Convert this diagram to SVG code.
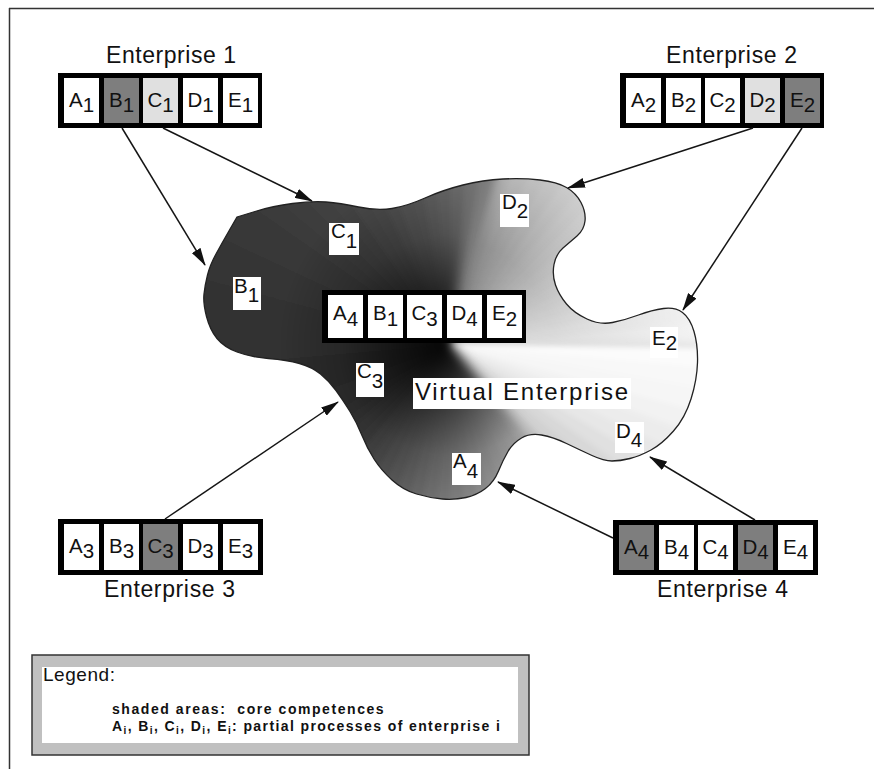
<svg xmlns="http://www.w3.org/2000/svg" xmlns:xlink="http://www.w3.org/1999/xlink" width="874" height="769" viewBox="0 0 874 769">
<style>
text{font-family:"Liberation Sans",Arial,sans-serif;fill:#111}
.lbl{font-size:23px}
.cell{font-size:20.5px}
.blk{fill:#000}
.wh{fill:#fff}
.dk{fill:#7e7e7e}
.lt{fill:#e0e0e0}
.con line{stroke:#151515;stroke-width:1.5;marker-end:url(#ah)}
.leg{font-size:14px;font-weight:bold;letter-spacing:1.4px;white-space:pre}
</style>
<defs>
<marker id="ah" viewBox="0 0 18 10" refX="17" refY="5" markerWidth="18" markerHeight="10" markerUnits="userSpaceOnUse" orient="auto">
<path d="M0,0 L18,5 L0,10 Z" fill="#111"/>
</marker>
<path id="blobPath" d="M237,217 L255,211.5 Q273,206 292.5,203.5 Q312,201 326,202 Q340,203 358.5,207 Q377,211 392,208.5 Q407,206 425,198 Q443,190 463,185 Q483,180 503,179 Q523,178 540,180 Q557,182 566.5,187.5 Q576,193 581,202.5 Q586,212 585,221 Q584,230 577,236 Q570,242 563,248 Q556,254 554,264.5 Q552,275 555.5,285 Q559,295 566.5,304 Q574,313 587,319 Q600,325 612.5,322.5 Q625,320 638.5,315 Q652,310 663.5,308.5 Q675,307 682.5,312.5 Q690,318 694,331.5 Q698,345 697.5,362.5 Q697,380 691,399 Q685,418 673.5,431 Q662,444 651,450 Q640,456 630,458.5 Q620,461 612,461 Q604,461 592,455.5 Q580,450 566.5,443.5 Q553,437 541.5,435 Q530,433 521.5,438 Q513,443 508,451.5 Q503,460 498.5,471 Q494,482 485.5,488.5 Q477,495 466,497.5 Q455,500 442.5,499 Q430,498 416.5,494 Q403,490 392,480 Q381,470 374,459 Q367,448 362,435.5 Q357,423 350,411.5 Q343,400 336,390.5 Q329,381 320.5,374 Q312,367 299.5,363.5 Q287,360 268.5,358.5 Q250,357 237,352 Q224,347 217,338.5 Q210,330 206.5,316.5 Q203,303 204,294 Q205,285 207.5,275 Q210,265 216,254 Q222,243 229.5,230 Z"/>
<clipPath id="blobClip"><use xlink:href="#blobPath"/></clipPath>
<circle id="wc" cx="450" cy="345" r="200" pathLength="360" fill="none" stroke-width="400" stroke-dasharray="5.6 354.4"/>
<radialGradient id="dark" gradientUnits="userSpaceOnUse" cx="450" cy="345" r="170">
<stop offset="0" stop-color="#000" stop-opacity="0.95"/>
<stop offset="0.3" stop-color="#000" stop-opacity="0.6"/>
<stop offset="0.65" stop-color="#000" stop-opacity="0.2"/>
<stop offset="1" stop-color="#000" stop-opacity="0"/>
</radialGradient>
<radialGradient id="light" gradientUnits="userSpaceOnUse" cx="450" cy="345" r="260">
<stop offset="0" stop-color="#fff" stop-opacity="0"/>
<stop offset="0.4" stop-color="#fff" stop-opacity="0.1"/>
<stop offset="1" stop-color="#fff" stop-opacity="0.75"/>
</radialGradient>
<filter id="soft" x="-20%" y="-20%" width="140%" height="140%"><feGaussianBlur stdDeviation="6"/></filter>
<filter id="smooth" x="0" y="0" width="874" height="769" filterUnits="userSpaceOnUse"><feGaussianBlur stdDeviation="2.5"/></filter>
<mask id="leftMask" maskUnits="userSpaceOnUse" x="0" y="0" width="874" height="769">
<path d="M450,345 L760,700 L-50,700 L-50,-50 L500,-50 Z" fill="#fff" filter="url(#soft)"/>
</mask>
<mask id="ruMask" maskUnits="userSpaceOnUse" x="0" y="0" width="874" height="769">
<path d="M450,345 L900,345 L900,-50 L560,-50 Z" fill="#fff" filter="url(#soft)"/>
</mask>
</defs>

<rect width="874" height="769" fill="#fff"/>
<path d="M9,8.5 H874 M9.5,8 V769" stroke="#333" stroke-width="1.5" fill="none"/>

<g id="virtual-enterprise">
<g clip-path="url(#blobClip)">
<g filter="url(#smooth)">
<use xlink:href="#wc" stroke="#fbfbfb" stroke-dashoffset="0"/>
<use xlink:href="#wc" stroke="#f8f8f8" stroke-dashoffset="-5"/>
<use xlink:href="#wc" stroke="#f6f6f6" stroke-dashoffset="-10"/>
<use xlink:href="#wc" stroke="#f2f2f2" stroke-dashoffset="-15"/>
<use xlink:href="#wc" stroke="#ececec" stroke-dashoffset="-20"/>
<use xlink:href="#wc" stroke="#e7e7e7" stroke-dashoffset="-25"/>
<use xlink:href="#wc" stroke="#e0e0e0" stroke-dashoffset="-30"/>
<use xlink:href="#wc" stroke="#d8d8d8" stroke-dashoffset="-35"/>
<use xlink:href="#wc" stroke="#d1d1d1" stroke-dashoffset="-40"/>
<use xlink:href="#wc" stroke="#c8c8c8" stroke-dashoffset="-45"/>
<use xlink:href="#wc" stroke="#bfbfbf" stroke-dashoffset="-50"/>
<use xlink:href="#wc" stroke="#b6b6b6" stroke-dashoffset="-55"/>
<use xlink:href="#wc" stroke="#aeaeae" stroke-dashoffset="-60"/>
<use xlink:href="#wc" stroke="#a5a5a5" stroke-dashoffset="-65"/>
<use xlink:href="#wc" stroke="#9c9c9c" stroke-dashoffset="-70"/>
<use xlink:href="#wc" stroke="#949494" stroke-dashoffset="-75"/>
<use xlink:href="#wc" stroke="#8c8c8c" stroke-dashoffset="-80"/>
<use xlink:href="#wc" stroke="#848484" stroke-dashoffset="-85"/>
<use xlink:href="#wc" stroke="#7c7c7c" stroke-dashoffset="-90"/>
<use xlink:href="#wc" stroke="#747474" stroke-dashoffset="-95"/>
<use xlink:href="#wc" stroke="#6d6d6d" stroke-dashoffset="-100"/>
<use xlink:href="#wc" stroke="#656565" stroke-dashoffset="-105"/>
<use xlink:href="#wc" stroke="#5d5d5d" stroke-dashoffset="-110"/>
<use xlink:href="#wc" stroke="#565656" stroke-dashoffset="-115"/>
<use xlink:href="#wc" stroke="#4f4f4f" stroke-dashoffset="-120"/>
<use xlink:href="#wc" stroke="#484848" stroke-dashoffset="-125"/>
<use xlink:href="#wc" stroke="#414141" stroke-dashoffset="-130"/>
<use xlink:href="#wc" stroke="#3c3c3c" stroke-dashoffset="-135"/>
<use xlink:href="#wc" stroke="#383838" stroke-dashoffset="-140"/>
<use xlink:href="#wc" stroke="#343434" stroke-dashoffset="-145"/>
<use xlink:href="#wc" stroke="#313131" stroke-dashoffset="-150"/>
<use xlink:href="#wc" stroke="#303030" stroke-dashoffset="-155"/>
<use xlink:href="#wc" stroke="#2f2f2f" stroke-dashoffset="-160"/>
<use xlink:href="#wc" stroke="#2e2e2e" stroke-dashoffset="-165"/>
<use xlink:href="#wc" stroke="#2f2f2f" stroke-dashoffset="-170"/>
<use xlink:href="#wc" stroke="#303030" stroke-dashoffset="-175"/>
<use xlink:href="#wc" stroke="#313131" stroke-dashoffset="-180"/>
<use xlink:href="#wc" stroke="#323232" stroke-dashoffset="-185"/>
<use xlink:href="#wc" stroke="#333333" stroke-dashoffset="-190"/>
<use xlink:href="#wc" stroke="#353535" stroke-dashoffset="-195"/>
<use xlink:href="#wc" stroke="#363636" stroke-dashoffset="-200"/>
<use xlink:href="#wc" stroke="#373737" stroke-dashoffset="-205"/>
<use xlink:href="#wc" stroke="#393939" stroke-dashoffset="-210"/>
<use xlink:href="#wc" stroke="#3b3b3b" stroke-dashoffset="-215"/>
<use xlink:href="#wc" stroke="#3d3d3d" stroke-dashoffset="-220"/>
<use xlink:href="#wc" stroke="#404040" stroke-dashoffset="-225"/>
<use xlink:href="#wc" stroke="#434343" stroke-dashoffset="-230"/>
<use xlink:href="#wc" stroke="#464646" stroke-dashoffset="-235"/>
<use xlink:href="#wc" stroke="#4a4a4a" stroke-dashoffset="-240"/>
<use xlink:href="#wc" stroke="#4f4f4f" stroke-dashoffset="-245"/>
<use xlink:href="#wc" stroke="#545454" stroke-dashoffset="-250"/>
<use xlink:href="#wc" stroke="#595959" stroke-dashoffset="-255"/>
<use xlink:href="#wc" stroke="#5f5f5f" stroke-dashoffset="-260"/>
<use xlink:href="#wc" stroke="#656565" stroke-dashoffset="-265"/>
<use xlink:href="#wc" stroke="#6c6c6c" stroke-dashoffset="-270"/>
<use xlink:href="#wc" stroke="#727272" stroke-dashoffset="-275"/>
<use xlink:href="#wc" stroke="#7a7a7a" stroke-dashoffset="-280"/>
<use xlink:href="#wc" stroke="#808080" stroke-dashoffset="-285"/>
<use xlink:href="#wc" stroke="#878787" stroke-dashoffset="-290"/>
<use xlink:href="#wc" stroke="#8e8e8e" stroke-dashoffset="-295"/>
<use xlink:href="#wc" stroke="#949494" stroke-dashoffset="-300"/>
<use xlink:href="#wc" stroke="#9b9b9b" stroke-dashoffset="-305"/>
<use xlink:href="#wc" stroke="#a2a2a2" stroke-dashoffset="-310"/>
<use xlink:href="#wc" stroke="#a8a8a8" stroke-dashoffset="-315"/>
<use xlink:href="#wc" stroke="#afafaf" stroke-dashoffset="-320"/>
<use xlink:href="#wc" stroke="#b6b6b6" stroke-dashoffset="-325"/>
<use xlink:href="#wc" stroke="#bcbcbc" stroke-dashoffset="-330"/>
<use xlink:href="#wc" stroke="#c2c2c2" stroke-dashoffset="-335"/>
<use xlink:href="#wc" stroke="#c8c8c8" stroke-dashoffset="-340"/>
<use xlink:href="#wc" stroke="#cecece" stroke-dashoffset="-345"/>
<use xlink:href="#wc" stroke="#d4d4d4" stroke-dashoffset="-350"/>
<use xlink:href="#wc" stroke="#dadada" stroke-dashoffset="-355" stroke-dasharray="5 355"/>
</g>
<circle cx="450" cy="345" r="260" fill="url(#light)" mask="url(#ruMask)"/>
<circle cx="450" cy="345" r="170" fill="url(#dark)" mask="url(#leftMask)"/>
</g>
<use xlink:href="#blobPath" fill="none" stroke="#222" stroke-width="1.3"/>
</g>

<g id="blob-labels">
<rect class="wh" x="329" y="223" width="30" height="32"/>
<text class="cell" x="331" y="238">C<tspan dy="10">1</tspan></text>
<rect class="wh" x="500" y="194" width="29" height="33"/>
<text class="cell" x="502" y="209">D<tspan dy="9">2</tspan></text>
<rect class="wh" x="233" y="277" width="28" height="33"/>
<text class="cell" x="234" y="293">B<tspan dy="9">1</tspan></text>
<rect class="wh" x="356" y="363" width="28" height="34"/>
<text class="cell" x="357" y="378">C<tspan dy="10">3</tspan></text>
<rect class="wh" x="452" y="453" width="29" height="32"/>
<text class="cell" x="453" y="468">A<tspan dy="10">4</tspan></text>
<rect class="wh" x="650" y="327" width="28" height="31"/>
<text class="cell" x="652" y="345">E<tspan dy="5">2</tspan></text>
<rect class="wh" x="615" y="422" width="29" height="31"/>
<text class="cell" x="616" y="438">D<tspan dy="9">4</tspan></text>
</g>

<g id="ve-box" transform="translate(322,290)">
<rect class="blk" width="204" height="53"/>
<rect class="wh" x="6" y="5" width="35" height="43"/>
<rect class="wh" x="46" y="5" width="35" height="43"/>
<rect class="wh" x="85" y="5" width="35" height="43"/>
<rect class="wh" x="125" y="5" width="35" height="43"/>
<rect class="wh" x="165" y="5" width="35" height="43"/>
<text class="cell" x="23.5" y="30" text-anchor="middle">A<tspan dy="6">4</tspan></text>
<text class="cell" x="63.5" y="30" text-anchor="middle">B<tspan dy="6">1</tspan></text>
<text class="cell" x="102.5" y="30" text-anchor="middle">C<tspan dy="6">3</tspan></text>
<text class="cell" x="142.5" y="30" text-anchor="middle">D<tspan dy="6">4</tspan></text>
<text class="cell" x="182.5" y="30" text-anchor="middle">E<tspan dy="6">2</tspan></text>
</g>

<g id="ve-label">
<rect class="wh" x="413" y="378" width="218" height="31"/>
<text x="415" y="400" font-size="24" textLength="213" lengthAdjust="spacing">Virtual Enterprise</text>
</g>

<g id="enterprise-1">
<text class="lbl" x="106" y="63" textLength="130" lengthAdjust="spacing">Enterprise 1</text>
<g transform="translate(58,73)">
<rect class="blk" width="204" height="55"/>
<rect class="wh" x="6" y="5" width="35" height="45"/>
<rect class="dk" x="46" y="5" width="35" height="45"/>
<rect class="lt" x="85" y="5" width="35" height="45"/>
<rect class="wh" x="125" y="5" width="35" height="45"/>
<rect class="wh" x="165" y="5" width="35" height="45"/>
<text class="cell" x="23.5" y="34" text-anchor="middle">A<tspan dy="5">1</tspan></text>
<text class="cell" x="63.5" y="34" text-anchor="middle">B<tspan dy="5">1</tspan></text>
<text class="cell" x="102.5" y="34" text-anchor="middle">C<tspan dy="5">1</tspan></text>
<text class="cell" x="142.5" y="34" text-anchor="middle">D<tspan dy="5">1</tspan></text>
<text class="cell" x="182.5" y="34" text-anchor="middle">E<tspan dy="5">1</tspan></text>
</g>
</g>

<g id="enterprise-2">
<text class="lbl" x="666" y="63" textLength="131" lengthAdjust="spacing">Enterprise 2</text>
<g transform="translate(620,73)">
<rect class="blk" width="204" height="55"/>
<rect class="wh" x="6" y="5" width="35" height="45"/>
<rect class="wh" x="46" y="5" width="35" height="45"/>
<rect class="wh" x="85" y="5" width="35" height="45"/>
<rect class="lt" x="125" y="5" width="35" height="45"/>
<rect class="dk" x="165" y="5" width="35" height="45"/>
<text class="cell" x="23.5" y="34" text-anchor="middle">A<tspan dy="5">2</tspan></text>
<text class="cell" x="63.5" y="34" text-anchor="middle">B<tspan dy="5">2</tspan></text>
<text class="cell" x="102.5" y="34" text-anchor="middle">C<tspan dy="5">2</tspan></text>
<text class="cell" x="142.5" y="34" text-anchor="middle">D<tspan dy="5">2</tspan></text>
<text class="cell" x="182.5" y="34" text-anchor="middle">E<tspan dy="5">2</tspan></text>
</g>
</g>

<g id="enterprise-3">
<text class="lbl" x="104" y="597" textLength="131" lengthAdjust="spacing">Enterprise 3</text>
<g transform="translate(58,519)">
<rect class="blk" width="205" height="56"/>
<rect class="wh" x="6" y="5" width="35" height="46"/>
<rect class="wh" x="46" y="5" width="35" height="46"/>
<rect class="dk" x="85" y="5" width="35" height="46"/>
<rect class="wh" x="125" y="5" width="35" height="46"/>
<rect class="wh" x="165" y="5" width="35" height="46"/>
<text class="cell" x="23.5" y="34" text-anchor="middle">A<tspan dy="5">3</tspan></text>
<text class="cell" x="63.5" y="34" text-anchor="middle">B<tspan dy="5">3</tspan></text>
<text class="cell" x="102.5" y="34" text-anchor="middle">C<tspan dy="5">3</tspan></text>
<text class="cell" x="142.5" y="34" text-anchor="middle">D<tspan dy="5">3</tspan></text>
<text class="cell" x="182.5" y="34" text-anchor="middle">E<tspan dy="5">3</tspan></text>
</g>
</g>

<g id="enterprise-4">
<text class="lbl" x="657" y="597" textLength="131" lengthAdjust="spacing">Enterprise 4</text>
<g transform="translate(613,520)">
<rect class="blk" width="205" height="55"/>
<rect class="dk" x="6" y="5" width="35" height="45"/>
<rect class="wh" x="46" y="5" width="35" height="45"/>
<rect class="wh" x="85" y="5" width="35" height="45"/>
<rect class="dk" x="125" y="5" width="35" height="45"/>
<rect class="wh" x="165" y="5" width="35" height="45"/>
<text class="cell" x="23.5" y="34" text-anchor="middle">A<tspan dy="5">4</tspan></text>
<text class="cell" x="63.5" y="34" text-anchor="middle">B<tspan dy="5">4</tspan></text>
<text class="cell" x="102.5" y="34" text-anchor="middle">C<tspan dy="5">4</tspan></text>
<text class="cell" x="142.5" y="34" text-anchor="middle">D<tspan dy="5">4</tspan></text>
<text class="cell" x="182.5" y="34" text-anchor="middle">E<tspan dy="5">4</tspan></text>
</g>
</g>

<g id="connectors" class="con">
<line x1="122" y1="128" x2="205" y2="265"/>
<line x1="163" y1="128" x2="312" y2="201"/>
<line x1="753" y1="128" x2="568" y2="188"/>
<line x1="802" y1="128" x2="683" y2="310"/>
<line x1="165" y1="519" x2="338" y2="402"/>
<line x1="613" y1="538" x2="498" y2="482"/>
<line x1="755" y1="520" x2="650" y2="457"/>
</g>

<g id="legend">
<rect x="32" y="655" width="497" height="100" fill="#c0c0c0" stroke="#333" stroke-width="1.5"/>
<rect class="wh" x="42" y="667" width="476" height="76"/>
<text x="43" y="681" font-size="19" textLength="72" lengthAdjust="spacing">Legend:</text>
<text class="leg" x="112" y="714" textLength="273" lengthAdjust="spacing">shaded areas:  core competences</text>
<text class="leg" x="112" y="731">A<tspan font-size="10" dy="3">i</tspan><tspan dy="-3">, B</tspan><tspan font-size="10" dy="3">i</tspan><tspan dy="-3">, C</tspan><tspan font-size="10" dy="3">i</tspan><tspan dy="-3">, D</tspan><tspan font-size="10" dy="3">i</tspan><tspan dy="-3">, E</tspan><tspan font-size="10" dy="3">i</tspan><tspan dy="-3">: partial processes of enterprise i</tspan></text>
</g>
</svg>
